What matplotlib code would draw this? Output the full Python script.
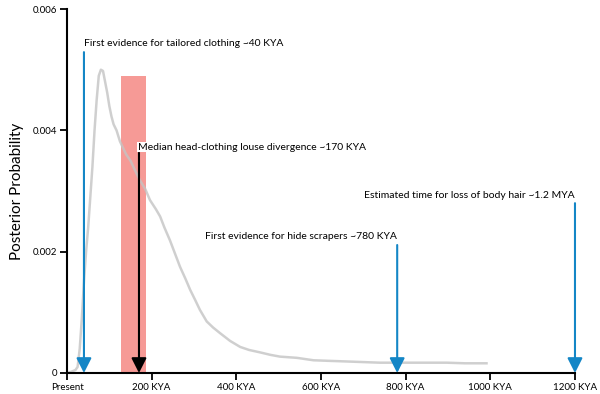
import matplotlib.pyplot as plt

plt.rcParams['font.family'] = ['Lato', 'DejaVu Sans']

# posterior curve (time in KYA, probability)
kya = [0, 10, 20, 25, 30, 35, 40, 45, 50, 55, 60, 65, 70, 75, 80, 85, 90, 95,
       100, 105, 110, 117, 125, 129, 140, 150, 160, 172, 185, 196, 210, 220,
       230, 243, 255, 267, 280, 291, 303, 314, 330, 345, 361, 385, 409, 430,
       456, 480, 503, 543, 582, 620, 661, 700, 739, 780, 818, 860, 897, 940, 991]
prob = [0, 0.00002, 0.00005, 0.0001, 0.0004, 0.0009, 0.0015, 0.0020, 0.0024,
        0.0029, 0.0034, 0.0040, 0.0045, 0.0049, 0.0050, 0.00498, 0.0048,
        0.00462, 0.0044, 0.00423, 0.0041, 0.0040, 0.00382, 0.00376, 0.0036,
        0.0035, 0.00335, 0.00318, 0.00303, 0.00285, 0.0027, 0.00258, 0.0024,
        0.00219, 0.00197, 0.00175, 0.00155, 0.00137, 0.0012, 0.00104, 0.00085,
        0.00075, 0.00066, 0.00053, 0.00043, 0.00038, 0.00034, 0.0003, 0.00027,
        0.00025, 0.00021, 0.0002, 0.00019, 0.00018, 0.00017, 0.00017, 0.00017,
        0.00017, 0.00017, 0.00016, 0.00016]

# credible interval band
band_lo, band_hi, band_top = 128, 187, 0.0049

# annotated events
median_x, median_top = 170, 0.00363
median_label = 'Median head-clothing louse divergence ~170 KYA'
events_x = [40, 780, 1200]
events_top = [0.00529, 0.00211, 0.0028]
events_label = ['First evidence for tailored clothing ~40 KYA',
                'First evidence for hide scrapers ~780 KYA',
                'Estimated time for loss of body hair ~1.2 MYA']

xticks = [0, 200, 400, 600, 800, 1000, 1200]
xticklabels = ['Present', '200 KYA', '400 KYA', '600 KYA', '800 KYA',
               '1000 KYA', '1200 KYA']
yticks = [0, 0.002, 0.004, 0.006]
yticklabels = ['0', '0.002', '0.004', '0.006']

blue = '#1486C6'
head = '-|>,head_length=0.75,head_width=0.38'

fig = plt.figure(figsize=(6, 3.94), dpi=100)
ax = fig.add_axes([0.1117, 0.0533, 0.8466, 0.9237])

ax.bar((band_lo + band_hi) / 2, band_top, width=band_hi - band_lo,
       color='#F69A96', zorder=1)
ax.plot(kya, prob, color='#C4C4C4', lw=1.8, alpha=0.8, zorder=2)

# median arrow
ax.annotate('', xy=(median_x, 0), xytext=(median_x, median_top),
            arrowprops=dict(arrowstyle=head, color='black', lw=1.5,
                            mutation_scale=12, shrinkA=0, shrinkB=0), zorder=4)
ax.text(median_x - 2, median_top + 0.00002, median_label, ha='left', va='bottom',
        fontsize=7.5, zorder=5,
        bbox=dict(facecolor='white', edgecolor='none', pad=0.5))

# event arrows
for i, (x, top, lab) in enumerate(zip(events_x, events_top, events_label)):
    ax.annotate('', xy=(x, 0), xytext=(x, top),
                arrowprops=dict(arrowstyle=head, color=blue, lw=1.5,
                                mutation_scale=12, shrinkA=0, shrinkB=0),
                zorder=4)
    ha = 'left' if i == 0 else 'right'
    ax.text(x, top + 0.00006, lab, ha=ha, va='bottom', fontsize=7.5, zorder=5)

ax.set_xlim(0, 1200)
ax.set_ylim(0, 0.006)
ax.set_xticks(xticks)
ax.set_xticklabels(xticklabels, fontsize=7)
ax.set_yticks(yticks)
ax.set_yticklabels(yticklabels, fontsize=7)
ax.set_ylabel('Posterior Probability', fontsize=11, labelpad=6)

for s in ['top', 'right']:
    ax.spines[s].set_visible(False)
for s in ['left', 'bottom']:
    ax.spines[s].set_linewidth(1.5)
ax.tick_params(length=5, width=1.3, pad=2)

plt.savefig('out.png', dpi=100)
